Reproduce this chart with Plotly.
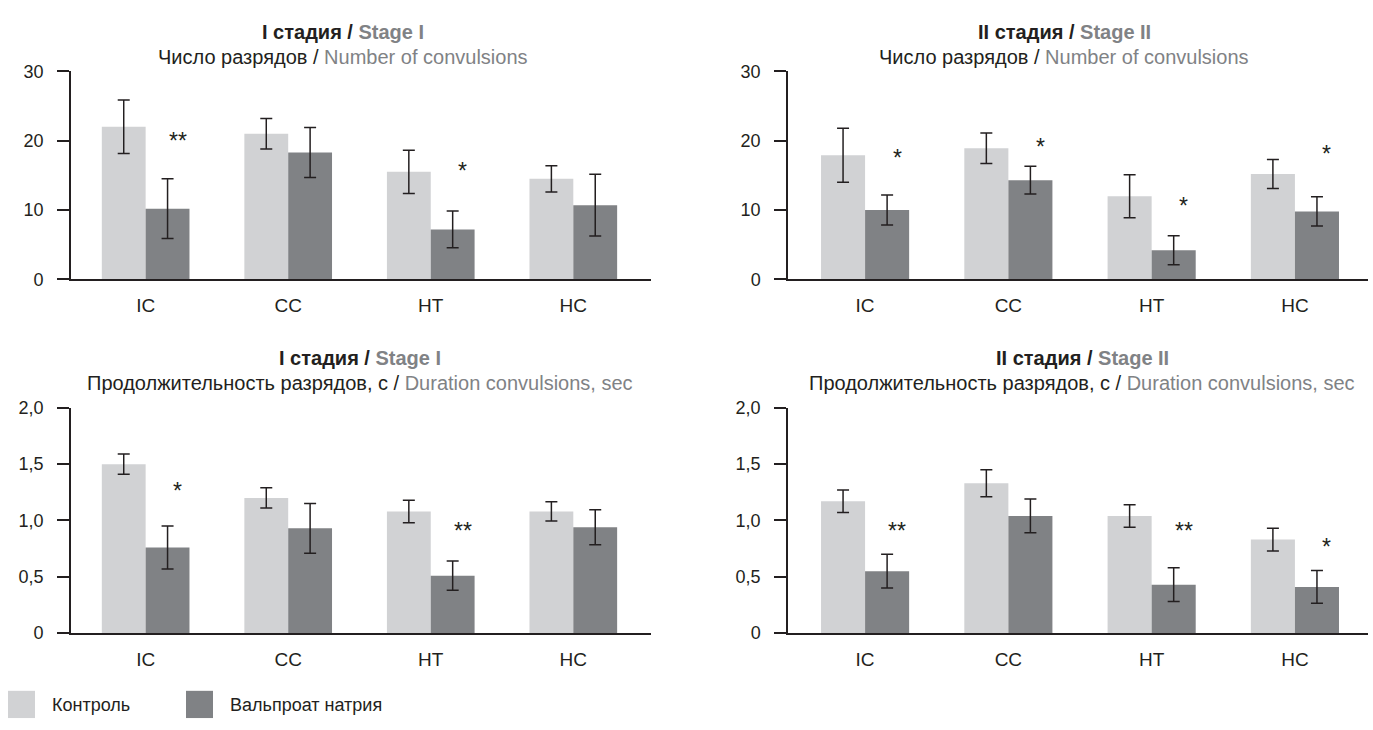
import plotly.graph_objects as go

W, H = 1373, 730

categories = ["IC", "CC", "HT", "HC"]

# Stage I, number of convulsions
s1_cnt_ctrl = [22.0, 21.0, 15.5, 14.5]
s1_cnt_ctrl_err = [3.85, 2.2, 3.1, 1.9]
s1_cnt_vpa = [10.2, 18.3, 7.2, 10.7]
s1_cnt_vpa_err = [4.3, 3.6, 2.65, 4.45]
# Stage II, number of convulsions
s2_cnt_ctrl = [17.9, 18.9, 12.0, 15.2]
s2_cnt_ctrl_err = [3.9, 2.2, 3.1, 2.1]
s2_cnt_vpa = [10.0, 14.3, 4.2, 9.8]
s2_cnt_vpa_err = [2.15, 2.0, 2.1, 2.1]
# Stage I, duration, sec
s1_dur_ctrl = [1.50, 1.20, 1.08, 1.08]
s1_dur_ctrl_err = [0.09, 0.09, 0.10, 0.085]
s1_dur_vpa = [0.76, 0.93, 0.51, 0.94]
s1_dur_vpa_err = [0.19, 0.22, 0.13, 0.155]
# Stage II, duration, sec
s2_dur_ctrl = [1.17, 1.33, 1.04, 0.83]
s2_dur_ctrl_err = [0.10, 0.12, 0.10, 0.10]
s2_dur_vpa = [0.55, 1.04, 0.43, 0.41]
s2_dur_vpa_err = [0.15, 0.15, 0.15, 0.145]

# significance marks: (category index, label, height)
s1_cnt_sig = [(0, "**", 20.6), (2, "*", 16.4)]
s2_cnt_sig = [(0, "*", 18.2), (1, "*", 19.8), (2, "*", 11.3), (3, "*", 18.8)]
s1_dur_sig = [(0, "*", 1.31), (2, "**", 0.955)]
s2_dur_sig = [(0, "**", 0.947), (2, "**", 0.955), (3, "*", 0.806)]

count_ticks = [0, 10, 20, 30]
count_ticktext = ["0", "10", "20", "30"]
dur_ticks = [0, 0.5, 1.0, 1.5, 2.0]
dur_ticktext = ["0", "0,5", "1,0", "1,5", "2,0"]

legend_names = ["Контроль", "Вальпроат натрия"]

LIGHT = "#d1d2d4"
DARK = "#808285"
INK = "#231f20"
GREY = "#808285"
FONT = "Liberation Sans Narrow, Liberation Sans, Arial, sans-serif"

def px(x):
    return x / W

def py(y):
    return 1 - y / H

panels = [
    dict(ctrl=s1_cnt_ctrl, ce=s1_cnt_ctrl_err, vpa=s1_cnt_vpa, ve=s1_cnt_vpa_err, sig=s1_cnt_sig,
         xd=(70.8, 651), yd=(277, 63), xr=[-0.525, 3.545], yr=[0, 30], tv=count_ticks, tt=count_ticktext,
         title="I стадия", title_en="Stage I", sub="Число разрядов", sub_en="Number of convulsions",
         tx=343, ty=23, sy=48),
    dict(ctrl=s2_cnt_ctrl, ce=s2_cnt_ctrl_err, vpa=s2_cnt_vpa, ve=s2_cnt_vpa_err, sig=s2_cnt_sig,
         xd=(788, 1368), yd=(277, 63), xr=[-0.538, 3.51], yr=[0, 30], tv=count_ticks, tt=count_ticktext,
         title="II стадия", title_en="Stage II", sub="Число разрядов", sub_en="Number of convulsions",
         tx=1064, ty=23, sy=48),
    dict(ctrl=s1_dur_ctrl, ce=s1_dur_ctrl_err, vpa=s1_dur_vpa, ve=s1_dur_vpa_err, sig=s1_dur_sig,
         xd=(70.8, 651), yd=(640.7, 409), xr=[-0.525, 3.545], yr=[0, 2.0], tv=dur_ticks, tt=dur_ticktext,
         title="I стадия", title_en="Stage I", sub="Продолжительность разрядов, с", sub_en="Duration convulsions, sec",
         tx=360, ty=358, sy=384),
    dict(ctrl=s2_dur_ctrl, ce=s2_dur_ctrl_err, vpa=s2_dur_vpa, ve=s2_dur_vpa_err, sig=s2_dur_sig,
         xd=(788, 1368), yd=(640.7, 409), xr=[-0.538, 3.51], yr=[0, 2.0], tv=dur_ticks, tt=dur_ticktext,
         title="II стадия", title_en="Stage II", sub="Продолжительность разрядов, с", sub_en="Duration convulsions, sec",
         tx=1082, ty=358, sy=384),
]

fig = go.Figure()
annotations = []
layout = {}

for i, p in enumerate(panels, start=1):
    xa = "x" if i == 1 else f"x{i}"
    ya = "y" if i == 1 else f"y{i}"
    for vals, errs, color, name in [(p["ctrl"], p["ce"], LIGHT, legend_names[0]),
                                    (p["vpa"], p["ve"], DARK, legend_names[1])]:
        fig.add_trace(go.Bar(
            x=categories, y=vals, name=name, marker=dict(color=color, line=dict(width=0)),
            error_y=dict(type="data", array=errs, visible=True, color=INK, thickness=1.5, width=6),
            xaxis=xa, yaxis=ya, showlegend=False,
        ))
    layout["xaxis" if i == 1 else f"xaxis{i}"] = dict(
        domain=[px(p["xd"][0]), px(p["xd"][1])], anchor=ya, type="category",
        range=p["xr"], showline=True, linecolor=INK, linewidth=1.5,
        ticks="outside", ticklen=8, tickcolor="rgba(0,0,0,0)",
        tickfont=dict(family=FONT, size=19, color=INK), showgrid=False, zeroline=False, fixedrange=True,
    )
    layout["yaxis" if i == 1 else f"yaxis{i}"] = dict(
        domain=[py(p["yd"][0]), py(p["yd"][1])], anchor=xa, range=p["yr"],
        tickvals=p["tv"], ticktext=p["tt"], showline=True, linecolor=INK, linewidth=1.5,
        ticks="outside", ticklen=12, tickwidth=1.5, tickcolor=INK, ticklabelstandoff=10,
        tickfont=dict(family=FONT, size=18, color=INK), showgrid=False, zeroline=False, fixedrange=True,
    )
    for ci, lab, yv in p["sig"]:
        annotations.append(dict(
            x=ci, y=yv, xref=xa, yref=ya, text=lab, showarrow=False, xshift=32, yshift=-5,
            font=dict(family=FONT, size=23, color=INK), xanchor="center", yanchor="middle",
        ))
    annotations.append(dict(
        x=px(p["tx"]), y=py(p["ty"]), xref="paper", yref="paper", showarrow=False,
        text=f"<b>{p['title']} / <span style='color:{GREY}'>{p['title_en']}</span></b>",
        font=dict(family=FONT, size=20, color=INK), xanchor="center", yanchor="middle",
    ))
    annotations.append(dict(
        x=px(p["tx"]), y=py(p["sy"]), xref="paper", yref="paper", showarrow=False,
        text=f"{p['sub']} / <span style='color:{GREY}'>{p['sub_en']}</span>",
        font=dict(family=FONT, size=20, color=INK), xanchor="center", yanchor="middle",
    ))

# legend (drawn as swatches + labels)
shapes = []
legend_items = [(LIGHT, legend_names[0], 8, 50), (DARK, legend_names[1], 186, 228)]
for color, name, sx, tx in legend_items:
    shapes.append(dict(type="rect", xref="paper", yref="paper", x0=px(sx), x1=px(sx + 27),
                       y0=py(728), y1=py(700), fillcolor=color, line=dict(width=0)))
    annotations.append(dict(x=px(tx), y=py(715), xref="paper", yref="paper", showarrow=False,
                            text=name, xanchor="left", yanchor="middle",
                            font=dict(family=FONT, size=18, color=INK)))

fig.update_layout(
    width=W, height=H, margin=dict(l=0, r=0, t=0, b=0),
    paper_bgcolor="white", plot_bgcolor="white",
    barmode="group", bargap=0.385, bargroupgap=0,
    annotations=annotations, shapes=shapes, showlegend=False,
    font=dict(family=FONT, color=INK),
    **layout,
)

fig.write_html(
    "out.html",
    config={"displayModeBar": False},
    post_script="document.body.style.margin='0';document.body.style.overflow='hidden';",
)
